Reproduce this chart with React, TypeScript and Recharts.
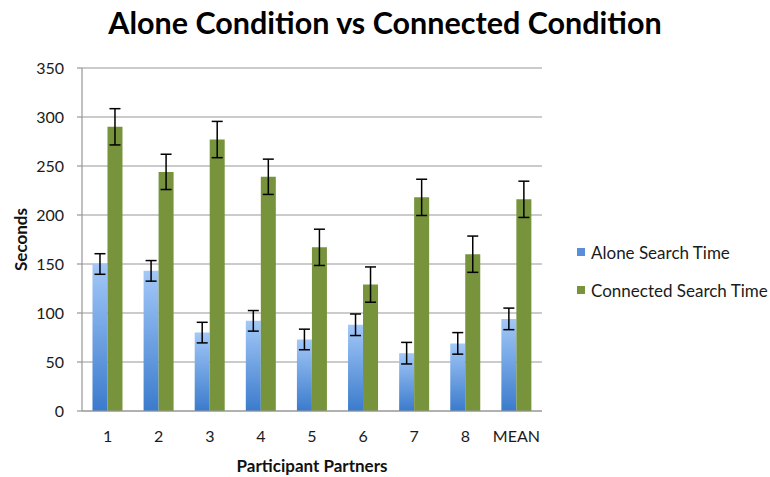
import React from 'react';
import { BarChart, Bar, XAxis, YAxis, CartesianGrid, ErrorBar } from 'recharts';

const categories = ['1', '2', '3', '4', '5', '6', '7', '8', 'MEAN'];
const aloneTime = [150, 143, 80, 92, 73, 88, 59, 69, 94];
const aloneError = [10.5, 10.5, 10.5, 10.5, 10.5, 11, 11, 11, 11];
const connectedTime = [290, 244, 277, 239, 167, 129, 218, 160, 216];
const connectedError = [18.5, 18, 18.5, 18, 18.5, 18, 18.5, 18.5, 18.5];
const yTicks = [0, 50, 100, 150, 200, 250, 300, 350];

const seriesNames = ['Alone Search Time', 'Connected Search Time'];

const data = categories.map((c, i) => ({
  name: c,
  alone: aloneTime[i],
  aloneErr: aloneError[i],
  connected: connectedTime[i],
  connectedErr: connectedError[i],
}));

const FONT = 'Lato, "Open Sans", sans-serif';
const GREEN = '#77933C';
const BLUE_FLAT = '#5A8ED8';
const GRID = '#979797';

const YLabel = (props: any) => {
  const vb = props.viewBox || { x: 0, y: 68, width: 82, height: 343 };
  const cx = vb.x + 20;
  const cy = vb.y + vb.height / 2;
  return (
    <text
      x={cx}
      y={cy}
      transform={`rotate(-90 ${cx} ${cy})`}
      textAnchor="middle"
      dominantBaseline="central"
      style={{ fontFamily: FONT, fontSize: 17, fontWeight: 700, fill: '#111' }}
    >
      Seconds
    </text>
  );
};

export default function App() {
  return (
    <div style={{ position: 'absolute', left: 0, top: 0, width: 770, height: 477, background: '#fff' }}>
      <div
        style={{
          position: 'absolute',
          left: 0,
          top: 4,
          width: 770,
          textAlign: 'center',
          fontFamily: FONT,
          fontWeight: 700,
          fontSize: 30.5,
          color: '#000',
        }}
      >
        Alone Condition vs Connected Condition
      </div>
      <div
        style={{
          position: 'absolute',
          left: 577,
          top: 242,
          fontFamily: FONT,
          fontSize: 17,
          color: '#1a1a1a',
          zIndex: 2,
        }}
      >
        {[{ n: seriesNames[0], c: BLUE_FLAT }, { n: seriesNames[1], c: GREEN }].map((it, i) => (
          <div key={i} style={{ display: 'flex', alignItems: 'center', height: 20, marginBottom: i === 0 ? 18 : 0 }}>
            <span style={{ display: 'inline-block', width: 8, height: 8, background: it.c, marginRight: 6 }} />
            <span>{it.n}</span>
          </div>
        ))}
      </div>
      <BarChart
        width={770}
        height={477}
        data={data}
        margin={{ top: 68, right: 228, bottom: 0, left: 0 }}
        barCategoryGap="20.5%"
        barGap={0}
      >
        <defs>
          <linearGradient id="blueGrad" x1="0" y1="0" x2="0" y2="1">
            <stop offset="0%" stopColor="#A3C8F8" />
            <stop offset="100%" stopColor="#3B7BCC" />
          </linearGradient>
        </defs>
        <CartesianGrid vertical={false} stroke={GRID} strokeWidth={1.2} />
        <XAxis
          dataKey="name"
          height={66}
          tickLine={false}
          tickSize={0}
          tickMargin={20}
          axisLine={{ stroke: GRID, strokeWidth: 1.2 }}
          tick={{ fontFamily: FONT, fontSize: 16, fill: '#1a1a1a' }}
          label={{
            value: 'Participant Partners',
            position: 'insideBottom',
            offset: 5,
            style: { fontFamily: FONT, fontSize: 17, fontWeight: 700, fill: '#111' },
          }}
        />
        <YAxis
          width={82}
          domain={[0, 350]}
          ticks={yTicks}
          interval={0}
          tickSize={5}
          tickMargin={13}
          tickLine={{ stroke: GRID, strokeWidth: 1.2 }}
          axisLine={{ stroke: GRID, strokeWidth: 1.2 }}
          tick={{ fontFamily: FONT, fontSize: 16, fill: '#1a1a1a' }}
          label={<YLabel />}
        />
        <Bar dataKey="alone" name={seriesNames[0]} fill="url(#blueGrad)" isAnimationActive={false}>
          <ErrorBar dataKey="aloneErr" width={5.5} stroke="#000" strokeWidth={1.5} direction="y" />
        </Bar>
        <Bar dataKey="connected" name={seriesNames[1]} fill={GREEN} isAnimationActive={false}>
          <ErrorBar dataKey="connectedErr" width={5.5} stroke="#000" strokeWidth={1.5} direction="y" />
        </Bar>
      </BarChart>
    </div>
  );
}
